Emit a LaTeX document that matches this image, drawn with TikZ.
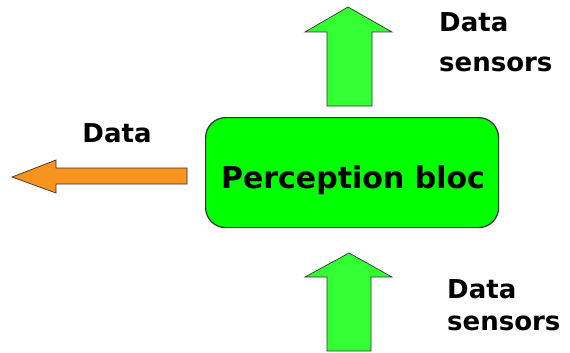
\documentclass[tikz,border=0pt]{standalone}
\usepackage{fontspec}
\setmainfont{DejaVu Sans}
\definecolor{boxgreen}{HTML}{00FF00}
\definecolor{arrgreen}{HTML}{33FF33}
\definecolor{arrorange}{HTML}{F7931E}
\definecolor{edge}{HTML}{333333}
\begin{document}
\begin{tikzpicture}[x=1pt,y=-1pt,
  blockarrow/.style={draw=edge, line width=0.7pt, line join=miter},
  lbl/.style={anchor=base west, inner sep=0pt, font=\bfseries\fontsize{26}{30}\selectfont},
  bloc/.style={draw=edge, line width=1.2pt, fill=boxgreen, rounded corners=20pt}]
\useasboundingbox (0,0) rectangle (570,353);
% main box
\node[bloc, minimum width=293pt, minimum height=110pt, anchor=north west, inner sep=0pt] (box) at (205,117) {};
\node[anchor=base, inner sep=0pt, font=\bfseries\fontsize{30}{34}\selectfont] (boxtxt) at (353,188) {Perception bloc};
% top arrow
\draw[blockarrow, fill=arrgreen] (327,106) -- (327,32) -- (305,32) -- (348,7) -- (392,32) -- (372,32) -- (372,106) -- cycle;
% bottom arrow
\draw[blockarrow, fill=arrgreen] (327,351) -- (327,277) -- (305,277) -- (349,253) -- (392,277) -- (371,277) -- (371,351) -- cycle;
% left arrow
\draw[blockarrow, fill=arrorange] (187,168) -- (56,168) -- (56,160) -- (12,177) -- (56,193) -- (56,184) -- (187,184) -- cycle;
% labels
\node[anchor=base, inner sep=0pt, font=\bfseries\fontsize{26}{30}\selectfont] (ldata) at (117,142) {Data};
\node[lbl] (tdata) at (439,32) {Data};
\node[lbl] (tsens) at (439,71) {sensors};
\node[lbl] (bdata) at (447,298) {Data};
\node[lbl] (bsens) at (447,330) {sensors};
\end{tikzpicture}
\end{document}
